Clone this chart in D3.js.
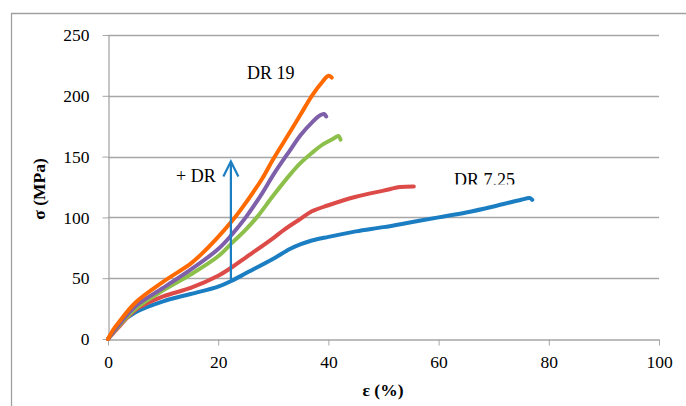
<!DOCTYPE html>
<html>
<head>
<meta charset="utf-8">
<script src="https://cdn.jsdelivr.net/npm/d3@7"></script>
<style>
  body { margin: 0; background: #fff; }
  text { font-family: "Liberation Serif", "DejaVu Serif", serif; fill: #000; }
  .axis text { font-size: 17.5px; }
  .axis path, .axis line { stroke: #a6a6a6; }
</style>
</head>
<body>
<svg id="chart" width="686" height="406"></svg>
<script>
// strain (%) / stress (MPa)
var blueStrain   = [0, 2, 5, 10, 15, 20, 22.5, 25, 30, 33, 35, 37, 40, 45, 50, 55, 60, 65, 70, 75, 76.5, 77];
var blueStress   = [0, 12, 22, 31, 37, 43, 48, 54, 66, 74, 78, 81, 84, 88.5, 92, 96, 100, 104, 109, 114.5, 116, 114.5];
var redStrain    = [0, 2, 5, 10, 15, 20, 22.5, 25, 30, 32, 35, 37, 40, 45, 50, 53, 55.5];
var redStress    = [0, 10, 24, 35, 42, 52, 59, 67, 83, 90, 99, 105, 110, 117, 122, 125, 125.5];
var greenStrain  = [0, 2, 5, 10, 15, 20, 22.5, 25, 27, 30, 33, 35, 37, 39, 41, 41.8, 42.2];
var greenStress  = [0, 11, 25, 40, 53, 68, 79, 90, 100, 118, 135, 145, 153, 160, 165, 167, 164];
var purpleStrain = [0, 2, 5, 10, 15, 20, 22.5, 25, 28, 30, 33, 35, 37, 38.5, 39.2, 39.6];
var purpleStress = [0, 12, 27, 42, 57, 74, 86, 100, 120, 135, 155, 168, 178, 184, 185, 183];
var orangeStrain = [0, 1, 2, 5, 10, 15, 17, 20, 22.5, 25, 28, 30, 33, 35, 37, 39, 40, 40.6];
var orangeStress = [0, 8, 14, 30, 47, 62, 70, 84, 97, 112, 132, 148, 170, 185, 200, 212, 216.5, 215];

var xTicks = [0, 20, 40, 60, 80, 100];
var yTicks = [0, 50, 100, 150, 200, 250];

var seriesNames  = ["DR 7.25", "red", "green", "purple", "DR 19"];
var seriesColors = ["#1c7ec2", "#dc4b47", "#8cc04b", "#7e5fa9", "#ff6a00"];
var arrowStrain = 22.3, arrowFrom = 49, arrowTo = 146;

var svg = d3.select("#chart");

// outer frame
svg.append("path")
  .attr("d", "M11.5,406 V13.5 H686")
  .attr("fill", "none").attr("stroke", "#a0a0a0").attr("stroke-width", 1.3);

var x = d3.scaleLinear().domain([0, 100]).range([108, 659]);
var y = d3.scaleLinear().domain([0, 250]).range([339, 35]);

// grid
svg.append("g").selectAll("line")
  .data(yTicks.slice(1))
  .enter().append("line")
    .attr("x1", x(0)).attr("x2", x(100))
    .attr("y1", function(d) { return Math.round(y(d)) + 0.5; })
    .attr("y2", function(d) { return Math.round(y(d)) + 0.5; })
    .attr("stroke", "#a6a6a6").attr("stroke-width", 1.3);

var xAxis = svg.append("g")
  .attr("class", "axis")
  .attr("transform", "translate(0," + (Math.round(y(0)) + 0.5) + ")")
  .call(d3.axisBottom(x).tickValues(xTicks).tickSize(6).tickSizeOuter(0).tickPadding(10));
xAxis.select(".domain").attr("stroke-width", 1.3);

var yAxis = svg.append("g")
  .attr("class", "axis")
  .attr("transform", "translate(" + (Math.round(x(0)) + 0.5) + ",0)")
  .call(d3.axisLeft(y).tickValues(yTicks).tickSize(6).tickSizeOuter(0).tickPadding(13));
yAxis.select(".domain").attr("stroke-width", 1.3);
svg.selectAll(".axis text").attr("font-family", null);

// curves
var allStrain = [blueStrain, redStrain, greenStrain, purpleStrain, orangeStrain];
var allStress = [blueStress, redStress, greenStress, purpleStress, orangeStress];
var line = d3.line()
  .x(function(d) { return x(d[0]); })
  .y(function(d) { return y(d[1]); })
  .curve(d3.curveCatmullRom);

seriesNames.forEach(function(name, i) {
  var pts = allStrain[i].map(function(s, j) { return [s, allStress[i][j]]; });
  svg.append("path")
    .datum(pts)
    .attr("d", line)
    .attr("fill", "none")
    .attr("stroke", seriesColors[i])
    .attr("stroke-width", 4)
    .attr("stroke-linecap", "round")
    .attr("stroke-linejoin", "round");
});

// arrow
var ax = x(arrowStrain);
svg.append("line")
  .attr("x1", ax).attr("x2", ax)
  .attr("y1", y(arrowFrom)).attr("y2", y(arrowTo) + 1)
  .attr("stroke", "#1c7ec2").attr("stroke-width", 2.2);
svg.append("path")
  .attr("d", "M" + (ax - 7.5) + "," + (y(arrowTo) + 15) + " L" + ax + "," + y(arrowTo) + " L" + (ax + 7.5) + "," + (y(arrowTo) + 15))
  .attr("fill", "none").attr("stroke", "#1c7ec2").attr("stroke-width", 2.2)
  .attr("stroke-linejoin", "miter");

// labels
svg.append("text").attr("x", 247).attr("y", 79).attr("font-size", 18).text("DR 19");
svg.append("text").attr("x", 176).attr("y", 182).attr("font-size", 18).text("+ DR");

svg.append("clipPath").attr("id", "cl")
  .append("rect").attr("x", 440).attr("y", 160).attr("width", 120).attr("height", 24.5);
svg.append("text").attr("x", 454).attr("y", 186).attr("font-size", 18)
  .attr("clip-path", "url(#cl)").text("DR 7.25");

// axis titles
svg.append("text")
  .attr("transform", "translate(45,189) rotate(-90)")
  .attr("text-anchor", "middle").attr("font-size", 17.5).attr("font-weight", "bold")
  .text("σ (MPa)");
svg.append("text")
  .attr("x", 383).attr("y", 396)
  .attr("text-anchor", "middle").attr("font-size", 17.5).attr("font-weight", "bold")
  .text("ε (%)");
</script>
</body>
</html>
